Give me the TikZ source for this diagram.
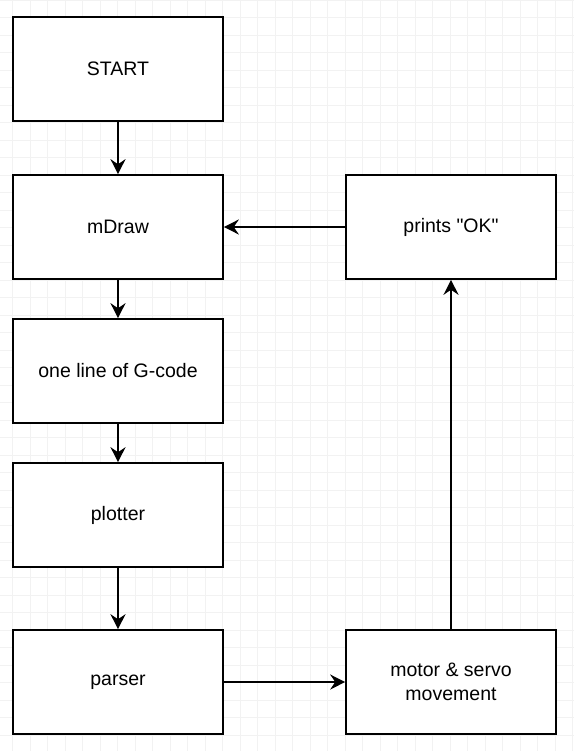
\documentclass[tikz,border=0pt]{standalone}
\usepackage{fontspec}
\setmainfont{Liberation Sans}[Ligatures=TeXOff]
\usetikzlibrary{arrows.meta}

\begin{document}
\begin{tikzpicture}[x=1pt, y=-1pt,
        stepbox/.style={draw, line width=1.6pt, fill=white, minimum width=210pt,
            minimum height=104pt, inner sep=0pt, align=center,
            font=\fontsize{19.5}{24}\selectfont},
        flow/.style={line width=1.6pt, -{Stealth[length=15pt, width=15pt, inset=5pt]}},
        gridline/.style={draw=black!5, line width=0.8pt}]
            \useasboundingbox (0, 0) rectangle (574, 751);

            %%grid
            \foreach \k in {0,...,32}
                \draw[gridline] (12.5+17.5*\k, 0) to (12.5+17.5*\k, 751);
            \foreach \k in {0,...,42}
                \draw[gridline] (0, 17.5*\k) to (574, 17.5*\k);

            %%left column
            \node[stepbox] (start) at (118, 69){START};
            \node[stepbox] (mdraw) at (118, 227){mDraw};
            \node[stepbox] (gline) at (118, 371){one line of G-code};
            \node[stepbox] (plotter) at (118, 515){plotter};
            \node[stepbox] (parser) at (118, 682){parser};

            %%right column
            \node[stepbox] (motor) at (451, 682){motor \& servo\\movement};
            \node[stepbox] (okmsg) at (451, 227){prints "OK"};

            %%arrows
            \draw[flow] (start) to (mdraw);
            \draw[flow] (mdraw) to (gline);
            \draw[flow] (gline) to (plotter);
            \draw[flow] (plotter) to (parser);
            \draw[flow] (parser) to (motor);
            \draw[flow] (motor) to (okmsg);
            \draw[flow] (okmsg) to (mdraw);

        \end{tikzpicture}
\end{document}
